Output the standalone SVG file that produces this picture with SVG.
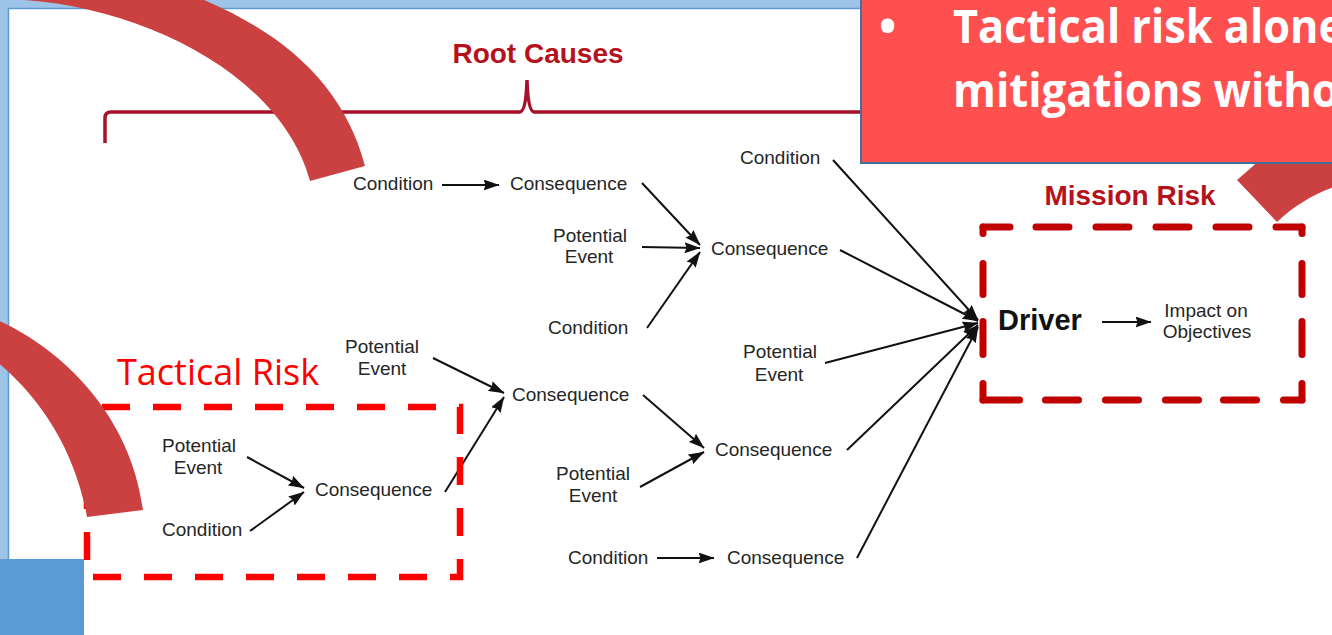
<svg xmlns="http://www.w3.org/2000/svg" width="1332" height="635" viewBox="0 0 1332 635">
  <style>
    .lbl { font-family: "Liberation Sans", Arial, sans-serif; font-size: 19px; fill: #262626; }
    .mid { text-anchor: middle; }
    .head { font-family: "Liberation Sans", Arial, sans-serif; font-weight: bold; font-size: 28px; fill: #b5121b; text-anchor: middle; }
    .edge { fill: none; stroke: #111; stroke-width: 2; marker-end: url(#ah); }
    .mission { fill: none; stroke: #c00000; stroke-width: 7; stroke-linecap: round; }
    .arc { fill: #cb4141; }
    .callout { font-family: "Open Sans", "Liberation Sans", sans-serif; font-weight: bold; font-size: 46px; fill: #ffffff; }
  </style>
  <defs>
    <marker id="ah" viewBox="0 0 16 11" refX="15.5" refY="5.5" markerWidth="16" markerHeight="11" markerUnits="userSpaceOnUse" orient="auto">
      <path d="M0,0 L16,5.5 L0,11 L2,5.5 z" fill="#111"/>
    </marker>
  </defs>

  <!-- slide frame -->
  <g id="frame">
    <rect x="0" y="0" width="1332" height="635" fill="#9dc3e6"/>
    <rect x="8.5" y="8.5" width="1340" height="640" fill="#ffffff" stroke="#5b9bd5" stroke-width="1.5"/>
  </g>

  <!-- root-cause brace -->
  <g id="root-causes">
    <path d="M105 143 V118 Q105 112 111 112 H520 Q526 111 527 80 Q528 111 534 112 H880" fill="none" stroke="#a8112a" stroke-width="3.5"/>
    <text class="head" x="538" y="63">Root Causes</text>
  </g>

  <!-- connectors -->
  <g id="connectors">
    <line class="edge" x1="442" y1="185" x2="499" y2="185"/>
    <line class="edge" x1="642" y1="183" x2="700" y2="245"/>
    <line class="edge" x1="642" y1="247" x2="700" y2="248"/>
    <line class="edge" x1="647" y1="328" x2="700" y2="252"/>
    <line class="edge" x1="833" y1="160" x2="978" y2="320"/>
    <line class="edge" x1="840" y1="250" x2="978" y2="321"/>
    <line class="edge" x1="825" y1="363" x2="978" y2="323"/>
    <line class="edge" x1="847" y1="450" x2="978" y2="325"/>
    <line class="edge" x1="857" y1="558" x2="978" y2="327"/>
    <line class="edge" x1="1102" y1="322" x2="1151" y2="322"/>
    <line class="edge" x1="433" y1="358" x2="504" y2="393"/>
    <line class="edge" x1="445" y1="492" x2="504" y2="397"/>
    <line class="edge" x1="643" y1="395" x2="704" y2="448"/>
    <line class="edge" x1="640" y1="487" x2="704" y2="452"/>
    <line class="edge" x1="657" y1="558" x2="714" y2="558"/>
    <line class="edge" x1="247" y1="457" x2="304" y2="488"/>
    <line class="edge" x1="250" y1="531" x2="304" y2="492"/>
  </g>

  <!-- nodes -->
  <g id="n-cond-top"><text class="lbl" x="353" y="190">Condition</text></g>
  <g id="n-cons-top"><text class="lbl" x="510" y="190">Consequence</text></g>
  <g id="n-event-a"><text class="lbl mid" x="590" y="242">Potential</text><text class="lbl mid" x="589" y="263">Event</text></g>
  <g id="n-cond-a"><text class="lbl" x="548" y="334">Condition</text></g>
  <g id="n-cons-a"><text class="lbl" x="711" y="255">Consequence</text></g>
  <g id="n-cond-right"><text class="lbl" x="740" y="164">Condition</text></g>
  <g id="n-event-right"><text class="lbl mid" x="780" y="358">Potential</text><text class="lbl mid" x="779" y="381">Event</text></g>
  <g id="n-event-b"><text class="lbl mid" x="382" y="353">Potential</text><text class="lbl mid" x="382" y="375">Event</text></g>
  <g id="n-cons-b"><text class="lbl" x="512" y="401">Consequence</text></g>
  <g id="n-event-c"><text class="lbl mid" x="593" y="480">Potential</text><text class="lbl mid" x="593" y="502">Event</text></g>
  <g id="n-cons-c"><text class="lbl" x="715" y="456">Consequence</text></g>
  <g id="n-cond-bottom"><text class="lbl" x="568" y="564">Condition</text></g>
  <g id="n-cons-bottom"><text class="lbl" x="727" y="564">Consequence</text></g>

  <!-- tactical risk group -->
  <g id="tactical-risk">
    <rect x="87" y="407" width="373" height="170" fill="none" stroke="#ff0000" stroke-width="6.5" stroke-dasharray="28 23" stroke-dashoffset="36"/>
    <text x="117" y="385" font-family="'Open Sans', 'Liberation Sans', sans-serif" font-size="36" fill="#ff0000">Tactical Risk</text>
  </g>
  <g id="n-event-t"><text class="lbl mid" x="199" y="452">Potential</text><text class="lbl mid" x="198" y="474">Event</text></g>
  <g id="n-cond-t"><text class="lbl" x="162" y="536">Condition</text></g>
  <g id="n-cons-t"><text class="lbl" x="315" y="496">Consequence</text></g>

  <!-- mission risk group -->
  <g id="mission-risk">
    <line class="mission" x1="983" y1="227" x2="1302" y2="227" stroke-dasharray="27 26 33 27 33 27 33 27 33 27 30"/>
    <line class="mission" x1="983" y1="400" x2="1302" y2="400" stroke-dasharray="36.5 26 33 27 33 27 33 25 33 27 18.5"/>
    <line class="mission" x1="983" y1="227" x2="983" y2="400" stroke-dasharray="6.5 30 31 27 33 29 16.5"/>
    <line class="mission" x1="1302" y1="227" x2="1302" y2="400" stroke-dasharray="6.5 30 31 27 33 29 16.5"/>
    <text class="head" x="1130" y="205">Mission Risk</text>
  </g>
  <g id="n-driver"><text x="998" y="330" font-family="'Liberation Sans', Arial, sans-serif" font-weight="bold" font-size="29" fill="#111">Driver</text></g>
  <g id="n-impact"><text class="lbl mid" x="1206" y="317">Impact on</text><text class="lbl mid" x="1207" y="338">Objectives</text></g>

  <!-- slide overlays -->
  <g id="arc-top"><path class="arc" d="M0 -1 C130 0 280 70 310 181 L365 166 C340 70 260 15 150 -20 L0 -20 Z"/></g>
  <g id="arc-left"><path class="arc" d="M-10 317 C55 343 130 410 143 510 L87 517 C75 450 40 395 -10 356 Z"/></g>
  <g id="arc-right"><path class="arc" d="M1277 222 C1295 205 1315 193 1340 185 L1340 100 L1300 125 L1237 180 Z"/></g>
  <g id="blue-tab"><rect x="0" y="559" width="84" height="76" fill="#5b9bd5"/></g>
  <g id="callout">
    <rect x="861" y="-5" width="480" height="168" fill="#ff5050" stroke="#41719c" stroke-width="2"/>
    <text class="callout" x="879" y="43">•</text>
    <text class="callout" x="953" y="43" textLength="391" lengthAdjust="spacingAndGlyphs">Tactical risk alone</text>
    <text class="callout" x="953" y="107" textLength="386" lengthAdjust="spacingAndGlyphs">mitigations witho</text>
  </g>
</svg>
